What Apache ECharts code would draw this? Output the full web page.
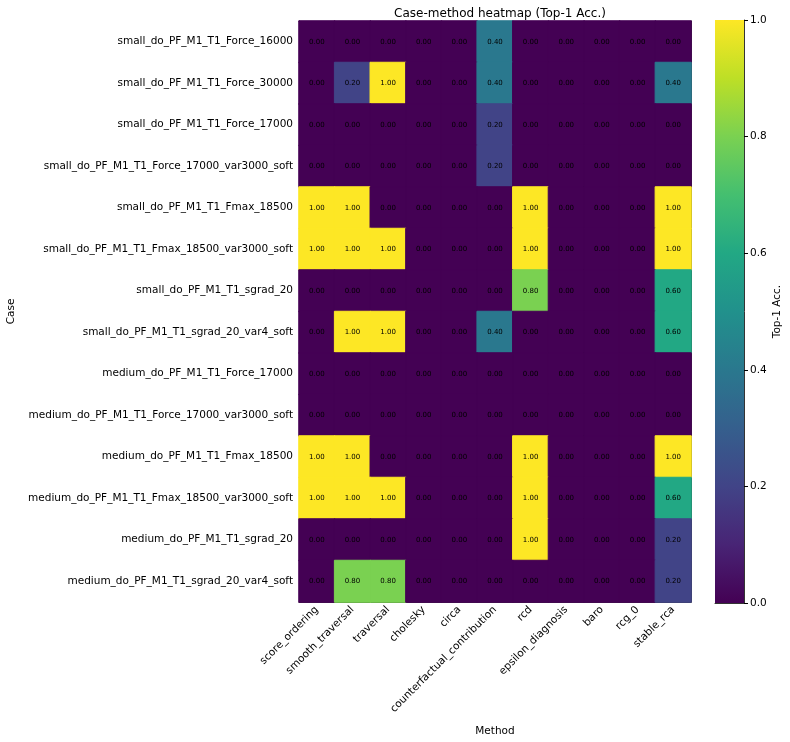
<!DOCTYPE html>
<html>
<head>
<meta charset="utf-8">
<script src="https://cdn.jsdelivr.net/npm/echarts@6/dist/echarts.min.js"></script>
<style>
  html, body { margin: 0; padding: 0; background: #fff; }
  #chart { width: 790px; height: 742px; }
</style>
</head>
<body>
<div id="chart"></div>
<script>
var methods = ['score_ordering', 'smooth_traversal', 'traversal', 'cholesky', 'circa',
  'counterfactual_contribution', 'rcd', 'epsilon_diagnosis', 'baro', 'rcg_0', 'stable_rca'];

var cases = [
  'small_do_PF_M1_T1_Force_16000',
  'small_do_PF_M1_T1_Force_30000',
  'small_do_PF_M1_T1_Force_17000',
  'small_do_PF_M1_T1_Force_17000_var3000_soft',
  'small_do_PF_M1_T1_Fmax_18500',
  'small_do_PF_M1_T1_Fmax_18500_var3000_soft',
  'small_do_PF_M1_T1_sgrad_20',
  'small_do_PF_M1_T1_sgrad_20_var4_soft',
  'medium_do_PF_M1_T1_Force_17000',
  'medium_do_PF_M1_T1_Force_17000_var3000_soft',
  'medium_do_PF_M1_T1_Fmax_18500',
  'medium_do_PF_M1_T1_Fmax_18500_var3000_soft',
  'medium_do_PF_M1_T1_sgrad_20',
  'medium_do_PF_M1_T1_sgrad_20_var4_soft'
];

// one row per case, one value per method
var acc = [
  [0, 0, 0, 0, 0, 0.4, 0, 0, 0, 0, 0],
  [0, 0.2, 1, 0, 0, 0.4, 0, 0, 0, 0, 0.4],
  [0, 0, 0, 0, 0, 0.2, 0, 0, 0, 0, 0],
  [0, 0, 0, 0, 0, 0.2, 0, 0, 0, 0, 0],
  [1, 1, 0, 0, 0, 0, 1, 0, 0, 0, 1],
  [1, 1, 1, 0, 0, 0, 1, 0, 0, 0, 1],
  [0, 0, 0, 0, 0, 0, 0.8, 0, 0, 0, 0.6],
  [0, 1, 1, 0, 0, 0.4, 0, 0, 0, 0, 0.6],
  [0, 0, 0, 0, 0, 0, 0, 0, 0, 0, 0],
  [0, 0, 0, 0, 0, 0, 0, 0, 0, 0, 0],
  [1, 1, 0, 0, 0, 0, 1, 0, 0, 0, 1],
  [1, 1, 1, 0, 0, 0, 1, 0, 0, 0, 0.6],
  [0, 0, 0, 0, 0, 0, 1, 0, 0, 0, 0.2],
  [0, 0.8, 0.8, 0, 0, 0, 0, 0, 0, 0, 0.2]
];

var colorbarTicks = [0, 0.2, 0.4, 0.6, 0.8, 1.0];

var viridis = ['#440154', '#482475', '#414487', '#355f8d', '#2a788e', '#21918c',
  '#22a884', '#44bf70', '#7ad151', '#bddf26', '#fde725'];

// cell border uses the cell's own colour so no seams show between cells
var heatData = [];
for (var r = 0; r < cases.length; r++) {
  for (var c = 0; c < methods.length; c++) {
    var v = acc[r][c];
    heatData.push({
      value: [c, r, v],
      itemStyle: { borderColor: echarts.color.lerp(v, viridis), borderWidth: 1 }
    });
  }
}

var gradStops = viridis.map(function (col, i) {
  return { offset: 1 - i / (viridis.length - 1), color: col };
});

var font = 'DejaVu Sans';
var noSplit = { show: false };
var chart = echarts.init(document.getElementById('chart'), null, { renderer: 'canvas' });

chart.setOption({
  backgroundColor: '#fff',
  animation: false,
  textStyle: { fontFamily: font },
  title: {
    text: 'Case-method heatmap (Top-1 Acc.)',
    left: 495, top: 3, textAlign: 'center',
    textStyle: { fontFamily: font, fontSize: 12, fontWeight: 'normal', color: '#000' }
  },
  grid: [
    { left: 299, right: 99, top: 21, bottom: 140 },
    { left: 715, width: 29, top: 20, bottom: 139 }
  ],
  xAxis: [
    {
      type: 'category', gridIndex: 0, data: methods, position: 'bottom',
      name: 'Method', nameLocation: 'middle', nameGap: 124,
      nameTextStyle: { fontSize: 10.5, color: '#000' },
      axisLine: { lineStyle: { color: '#000', width: 0.8 } },
      axisTick: { alignWithLabel: true, length: 4, lineStyle: { color: '#000' } },
      axisLabel: { rotate: 45, fontSize: 10.5, color: '#000', margin: 6, interval: 0 },
      splitLine: noSplit, splitArea: noSplit
    },
    {
      type: 'category', gridIndex: 0, data: methods, position: 'top',
      axisLine: { lineStyle: { color: '#000', width: 0.8 } },
      axisTick: { show: false }, axisLabel: { show: false },
      splitLine: noSplit, splitArea: noSplit
    },
    {
      type: 'category', gridIndex: 1, data: [''],
      axisLine: { lineStyle: { color: '#000', width: 0.8 } },
      axisTick: { show: false }, axisLabel: { show: false },
      splitLine: noSplit, splitArea: noSplit
    }
  ],
  yAxis: [
    {
      type: 'category', gridIndex: 0, data: cases, inverse: true, position: 'left',
      name: 'Case', nameLocation: 'middle', nameGap: 282, nameRotate: 90,
      nameTextStyle: { fontSize: 10.5, color: '#000' },
      axisLine: { lineStyle: { color: '#000', width: 0.8 } },
      axisTick: { alignWithLabel: true, length: 4, lineStyle: { color: '#000' } },
      axisLabel: { fontSize: 10.5, color: '#000', margin: 6, interval: 0 },
      splitLine: noSplit, splitArea: noSplit
    },
    {
      type: 'category', gridIndex: 0, data: cases, inverse: true, position: 'right',
      axisLine: { lineStyle: { color: '#000', width: 0.8 } },
      axisTick: { show: false }, axisLabel: { show: false },
      splitLine: noSplit, splitArea: noSplit
    },
    {
      type: 'value', gridIndex: 1, min: 0, max: 1, interval: 0.2, position: 'right',
      name: 'Top-1 Acc.', nameLocation: 'middle', nameGap: 28, nameRotate: 90,
      nameTextStyle: { fontSize: 10.5, color: '#000' },
      axisLine: { show: true, lineStyle: { color: '#000', width: 0.8 } },
      axisTick: { show: true, length: 4, lineStyle: { color: '#000' } },
      axisLabel: {
        fontSize: 10.5, color: '#000', margin: 6,
        formatter: function (v) { return colorbarTicks.indexOf(+v.toFixed(1)) >= 0 ? v.toFixed(1) : ''; }
      },
      splitLine: noSplit, splitArea: noSplit
    }
  ],
  visualMap: {
    show: false, seriesIndex: 0, min: 0, max: 1, dimension: 2,
    inRange: { color: viridis }
  },
  series: [
    {
      type: 'heatmap', xAxisIndex: 0, yAxisIndex: 0, data: heatData,
      label: {
        show: true, fontSize: 7, color: '#000',
        formatter: function (p) { return p.value[2].toFixed(2); }
      },
      emphasis: { disabled: true }
    },
    {
      type: 'bar', xAxisIndex: 2, yAxisIndex: 2, data: [1], barWidth: '100%',
      silent: true,
      itemStyle: {
        color: new echarts.graphic.LinearGradient(0, 0, 0, 1, gradStops)
      }
    }
  ]
});
</script>
</body>
</html>
